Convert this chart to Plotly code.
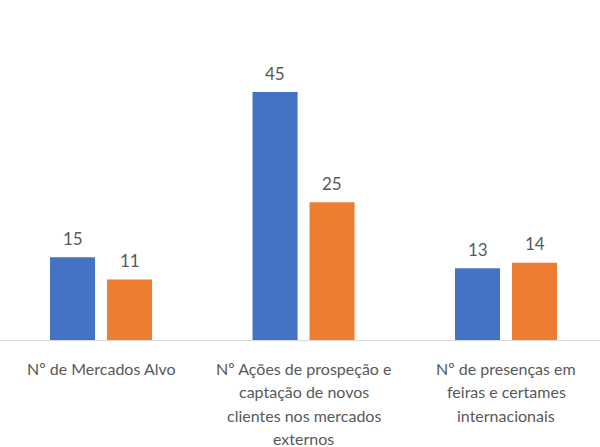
import plotly.graph_objects as go

categories = [
    "Nº de Mercados Alvo",
    "Nº Ações de prospeção e<br>captação de novos<br>clientes nos mercados<br>externos",
    "Nº de presenças em<br>feiras e certames<br>internacionais",
]
series_a = [15, 45, 13]
series_b = [11, 25, 14]
colors = ["#4472C4", "#ED7D31"]

font_family = "Lato, 'Open Sans', sans-serif"
text_color = "#595959"

fig = go.Figure()
for vals, col in zip([series_a, series_b], colors):
    fig.add_trace(go.Bar(x=categories, y=vals, marker=dict(color=col, line=dict(width=0)),
                         hoverinfo="skip"))

annotations = []
# value labels
for vals, shift in zip([series_a, series_b], [-28.5, 28.5]):
    for c, v in zip(categories, vals):
        annotations.append(dict(x=c, y=v, xref="x", yref="y", text=str(v), showarrow=False,
                                xshift=shift, yshift=19,
                                font=dict(size=17, color=text_color, family=font_family)))
# category labels, one annotation per line for Excel-like line spacing
for c in categories:
    for i, line in enumerate(c.split("<br>")):
        annotations.append(dict(x=c, y=0, xref="x", yref="y", text=line, showarrow=False,
                                yshift=-(28 + 23.5 * i),
                                font=dict(size=16, color=text_color, family=font_family)))

fig.update_layout(
    width=600, height=447,
    margin=dict(l=0, r=0, t=0, b=107, autoexpand=False),
    paper_bgcolor="white", plot_bgcolor="white",
    showlegend=False,
    barmode="group", bargap=0.437, bargroupgap=0.21,
    annotations=annotations,
    font=dict(family=font_family, size=16, color=text_color),
    xaxis=dict(type="category", range=[-0.499, 2.464], showline=True, linecolor="#D9D9D9",
               linewidth=1, ticks="", showgrid=False, showticklabels=False, automargin=False),
    yaxis=dict(range=[0, 61.7], visible=False, showgrid=False, zeroline=False, automargin=False),
)

fig.write_html("out.html", config={"displayModeBar": False},
               post_script="document.body.style.margin='0';document.body.style.overflow='hidden';")
